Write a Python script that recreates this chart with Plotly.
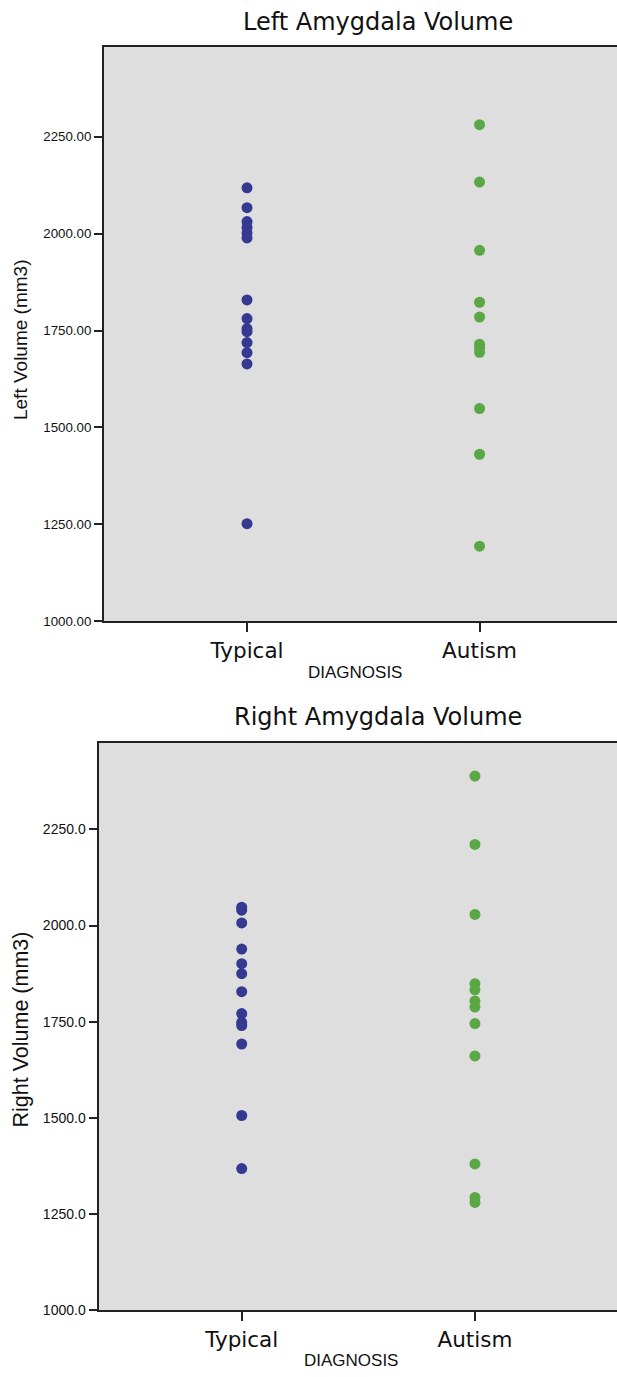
import plotly.graph_objects as go

# ---------------- data ----------------
categories = ["Typical", "Autism"]
left_typical = [2118, 2067, 2031, 2016, 2002, 1989, 1829, 1781, 1755, 1747, 1719, 1693, 1664, 1252]
left_autism = [2281, 2133, 1957, 1823, 1785, 1715, 1705, 1694, 1549, 1431, 1194]
right_typical = [2048, 2040, 2007, 1939, 1901, 1875, 1828, 1771, 1748, 1740, 1692, 1506, 1368]
right_autism = [2389, 2211, 2029, 1849, 1833, 1804, 1788, 1745, 1661, 1380, 1293, 1280]
y_ticks = [1000, 1250, 1500, 1750, 2000, 2250]
titles = ["Left Amygdala Volume", "Right Amygdala Volume"]
y_titles = ["Left Volume (mm3)", "Right Volume (mm3)"]
x_title = "DIAGNOSIS"

# ---------------- layout helpers ----------------
W, H = 617, 1377
def px(x):
    return x / W
def py(y):
    return 1 - y / H

BLUE = "#343991"
GREEN = "#5aa845"
BG = "#dedede"
CATFONT = dict(family="DejaVu Sans, sans-serif", size=21.5, color="#111111")

fig = go.Figure()

def add_markers(vals, cat, color, xa, ya):
    fig.add_trace(go.Scatter(
        x=[cat] * len(vals), y=vals, mode="markers",
        marker=dict(color=color, size=11, line=dict(width=0)),
        xaxis=xa, yaxis=ya, showlegend=False, hoverinfo="y"))

add_markers(left_typical, categories[0], BLUE, "x", "y")
add_markers(left_autism, categories[1], GREEN, "x", "y")
add_markers(right_typical, categories[0], BLUE, "x2", "y2")
add_markers(right_autism, categories[1], GREEN, "x2", "y2")

def xaxis_cfg(domain, rng, anchor):
    return dict(domain=domain, range=rng, anchor=anchor, type="category",
                categoryorder="array", categoryarray=categories,
                showgrid=False, zeroline=False, showline=True, mirror=True,
                linecolor="#222222", linewidth=2, ticks="outside", ticklen=9,
                tickwidth=2, tickcolor="#222222", tickfont=CATFONT, fixedrange=True)

def yaxis_cfg(domain, rng, anchor, fmt, fsize):
    return dict(domain=domain, range=rng, anchor=anchor, tickvals=y_ticks,
                tickformat=fmt, showgrid=False, zeroline=False, showline=True,
                linecolor="#222222", linewidth=2, ticks="outside", ticklen=8,
                tickwidth=2, tickcolor="#222222",
                tickfont=dict(family="Liberation Sans, Arial, sans-serif", size=fsize, color="#111111"),
                fixedrange=True)

top_y = [py(625), py(47)]
bot_y = [py(1317.7), py(747.3)]

fig.update_layout(
    width=W, height=H,
    margin=dict(l=0, r=0, t=0, b=0),
    paper_bgcolor="white", plot_bgcolor=BG,
    xaxis=xaxis_cfg([px(104), 1.0], [-0.615, 1.591], "y"),
    yaxis=yaxis_cfg(top_y, [1000, 2482], "x", ".2f", 13.3),
    xaxis2=xaxis_cfg([px(98.5), 1.0], [-0.614, 1.609], "y2"),
    yaxis2=yaxis_cfg(bot_y, [1000, 2475], "x2", ".1f", 14),
)

ann = []
TITLEFONT = dict(family="DejaVu Sans, sans-serif", size=24, color="#111111")
AXFONT = dict(family="Liberation Sans, Arial, sans-serif", size=17, color="#111111")
YT1 = dict(family="Liberation Sans, Arial, sans-serif", size=19, color="#111111")
YT2 = dict(family="Liberation Sans, Arial, sans-serif", size=21.5, color="#111111")
ann.append(dict(text=titles[0], x=px(378), y=py(22.5), font=TITLEFONT))
ann.append(dict(text=titles[1], x=px(378), y=py(721), font=TITLEFONT))
ann.append(dict(text=x_title, x=px(355), y=py(676.5), font=AXFONT))
ann.append(dict(text=x_title, x=px(350.5), y=py(1368), font=AXFONT))
ann.append(dict(text=y_titles[0], x=px(20), y=py(342), font=YT1, textangle=-90))
ann.append(dict(text=y_titles[1], x=px(20.5), y=py(1036), font=YT2, textangle=-90))
for a in ann:
    a.update(xref="paper", yref="paper", showarrow=False, xanchor="center", yanchor="middle")
fig.update_layout(annotations=ann)

fig.write_html(
    "out.html",
    config={"displayModeBar": False},
    post_script="document.body.style.margin='0';document.body.style.overflow='hidden';",
)
